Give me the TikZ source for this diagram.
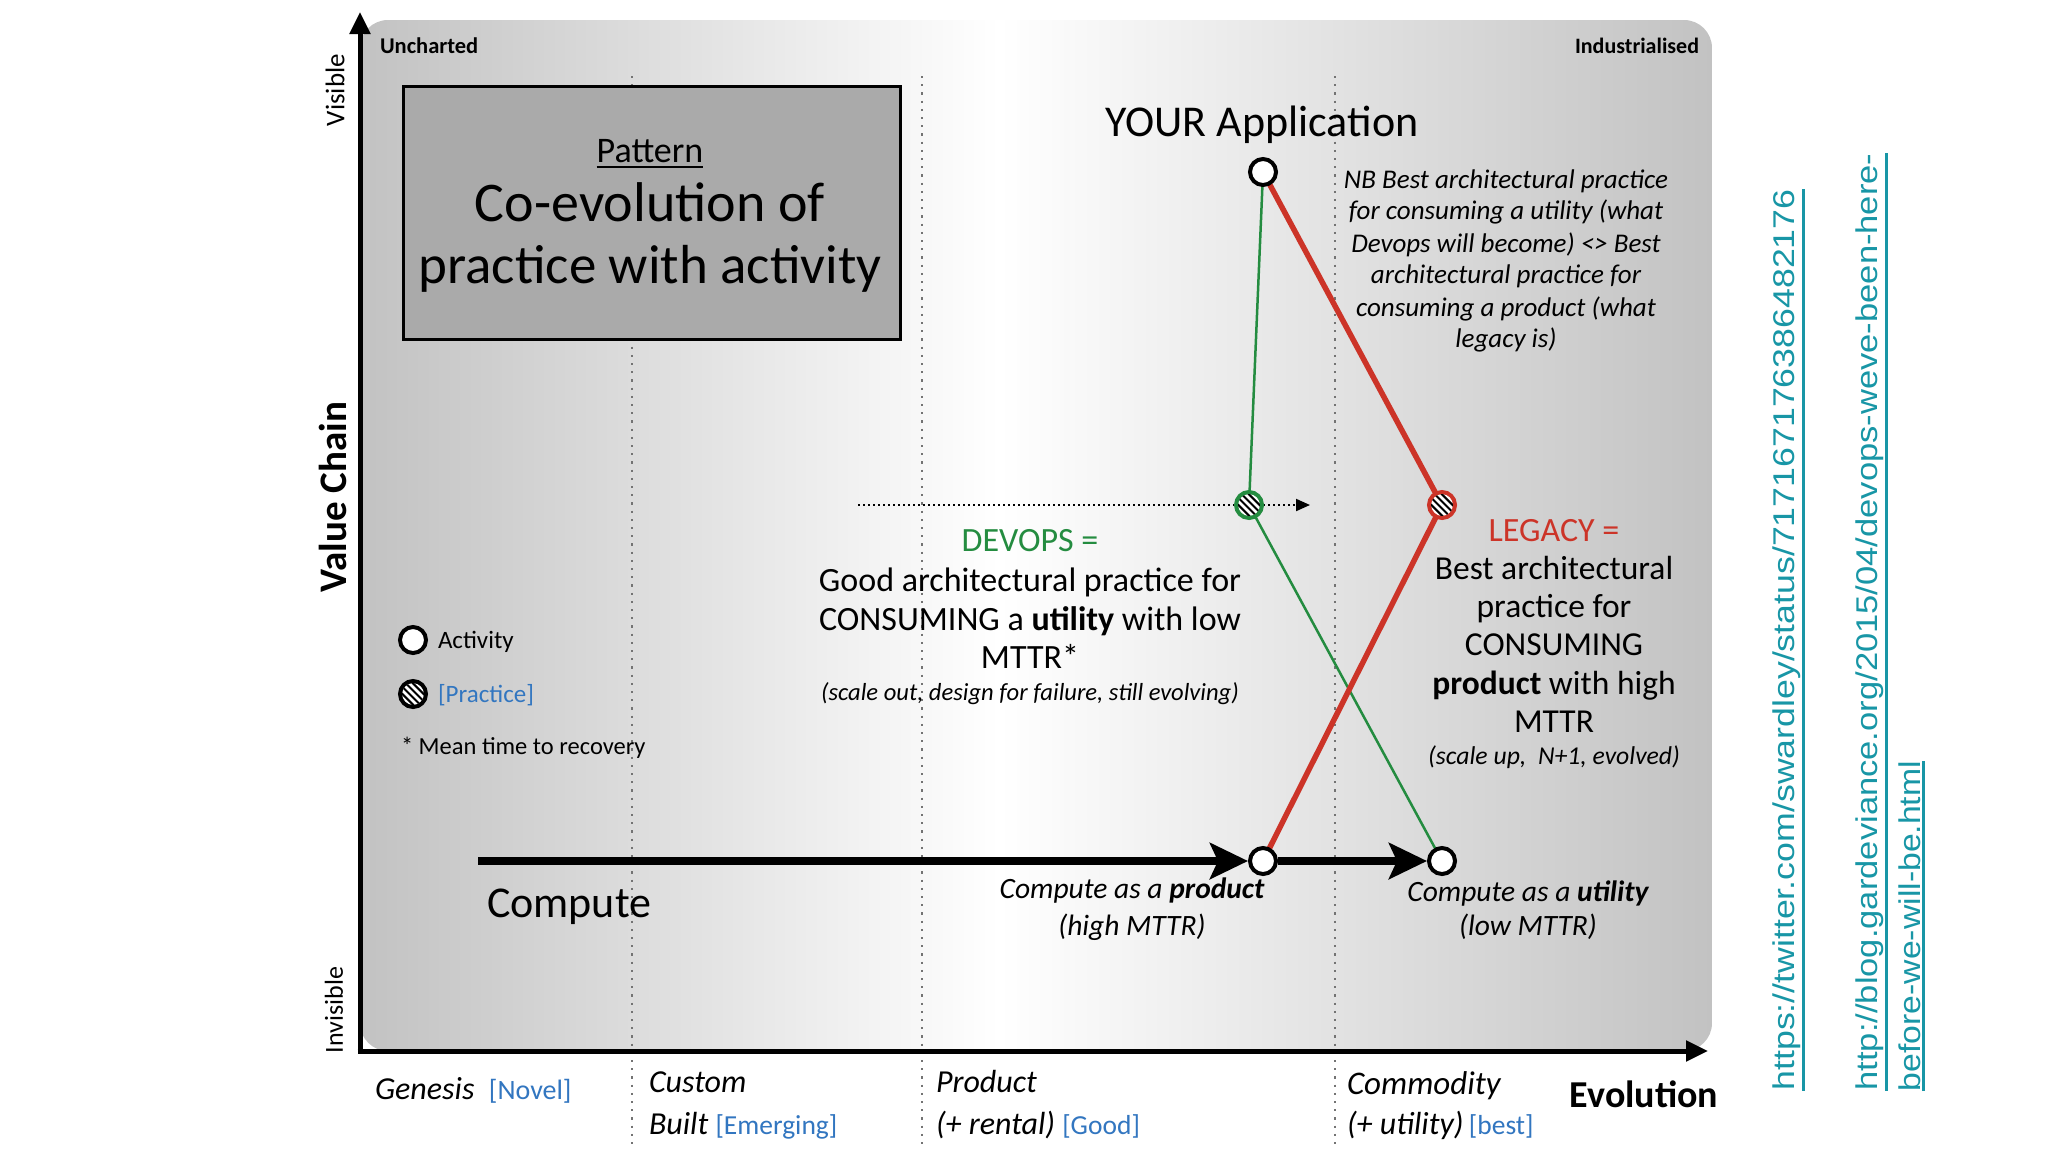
\documentclass[tikz,border=0pt]{standalone}
\usepackage{fontspec}
\usepackage{graphicx}
\setmainfont{Carlito}
\newfontfamily\urlfont{Liberation Sans}
\usetikzlibrary{arrows.meta,calc}
\definecolor{dgreen}{RGB}{36,140,64}
\definecolor{dred}{RGB}{204,52,40}
\definecolor{lblue}{RGB}{50,118,192}
\definecolor{urlc}{RGB}{24,150,166}
\definecolor{boxgray}{RGB}{170,170,170}
\definecolor{bggray}{RGB}{194,194,194}
\newcommand{\fs}[2]{\fontsize{#1}{#2}\selectfont}
\newcommand{\hatchcirc}[1]{%
  \begin{scope}
    \clip (#1) circle (11pt);
    \foreach \dd in {-7.5,-2.5,2.5,7.5}{
      \draw[line width=2pt] ($(#1)+(\dd*0.7071,-\dd*0.7071)+(-20,-20)$) -- ($(#1)+(\dd*0.7071,-\dd*0.7071)+(20,20)$);
    }
  \end{scope}}
\begin{document}
\begin{tikzpicture}[x=1pt,y=-1pt,
  act/.style={circle,draw=black,line width=4pt,fill=white,minimum size=26pt,inner sep=0pt},
  prac/.style={circle,line width=4pt,fill=white,minimum size=26pt,inner sep=0pt},
  txt/.style={inner sep=0pt,outer sep=0pt},
  vdots/.style={draw=black!55,line width=2.2pt,dash pattern=on 2.2pt off 6pt},
  bigarrow/.style={line width=8pt,-{Stealth[length=38pt,width=36pt,inset=8pt]}},
  axisarrow/.style={line width=5pt,-{Triangle[length=22pt,width=20pt]}},
]
\useasboundingbox (0,0) rectangle (2048,1152);
\fill[white] (0,0) rectangle (2048,1152);
% background shading
\begin{scope}
  \clip[rounded corners=28pt] (360,20) rectangle (1712,1051);
  \shade[left color=bggray, right color=white] (360,20) rectangle (1000,1051);
  \shade[left color=white, right color=bggray] (999,20) rectangle (1712,1051);
\end{scope}
% stage separators
\foreach \xx/\nm in {632/sa,922/sb,1335/sc}{
  \coordinate (\nm t) at (\xx,76);
  \coordinate (\nm b) at (\xx,1145);
  \draw[vdots] (\nm t) -- (\nm b);
}
% axes
\coordinate (O) at (360,1053);
\coordinate (Ox) at (357.5,1051);
\coordinate (Ytop) at (360,12);
\coordinate (Xend) at (1708,1051);
\draw[axisarrow] (O) -- (Ytop);
\draw[axisarrow] (Ox) -- (Xend);
% pattern box
\node[draw=black,line width=3pt,fill=boxgray,minimum width=497pt,minimum height=253pt,anchor=north west,inner sep=0pt] (pbox) at (402,85) {};
\node[txt,anchor=base] (ptitle) at (650,162) {\fs{36}{42}Pattern};
\draw[line width=2pt] ($(ptitle.base west)+(0,5)$) -- ($(ptitle.base east)+(0,5)$);
\node[txt,anchor=base] (pl1) at (650,221) {\fs{56}{66}Co-evolution of};
\node[txt,anchor=base] (pl2) at (650,283) {\fs{55}{66}practice with activity};
% labels on axes
\node[txt,anchor=west] (unch) at (380,46) {\fs{22.5}{26}\bfseries Uncharted};
\node[txt,anchor=east] (indu) at (1699,46) {\fs{22}{26}\bfseries Industrialised};
\node[txt,rotate=90] (vis) at (335,90) {\fs{27}{32}Visible};
\node[txt,rotate=90] (invis) at (334,1010) {\fs{26}{32}Invisible};
\node[txt,rotate=90] (vchain) at (333,497) {\fs{39}{46}\bfseries Value Chain};
% dotted evolution arrow
\coordinate (dstart) at (858,505);
\coordinate (dend) at (1310,505);
\draw[line width=2pt,dash pattern=on 2pt off 3pt,-{Triangle[length=14pt,width=12pt]}] (dstart) -- (dend);
% node centres
\coordinate (appc) at (1263,172);
\coordinate (devc) at (1249,505);
\coordinate (legc) at (1442,505);
\coordinate (prodc) at (1263,861);
\coordinate (utilc) at (1442,861);
% connectors
\draw[dgreen,line width=2.5pt] (appc) -- (devc) -- (utilc);
\draw[dred,line width=5.5pt] (appc) -- (legc) -- (prodc);
% circles
\node[act] (app) at (appc) {};
\node[prac,draw=dgreen] (dev) at (devc) {};
\node[prac,draw=dred] (leg) at (legc) {};
\node[act] (prod) at (prodc) {};
\node[act] (util) at (utilc) {};
\hatchcirc{devc}
\hatchcirc{legc}
% compute arrows
\coordinate (cstart) at (478,861);
\draw[bigarrow] (cstart) -- (prod);
\draw[bigarrow] (prod) -- (util);
% texts
\node[txt] (apptxt) at (1262,125) {\fs{44}{52}YOUR Application};
\foreach \tt/\yy/\nm in {NB Best architectural practice/188/nb1,for consuming a utility (what/219/nb2,Devops will become) <> Best/252/nb3,architectural practice for/283/nb4,consuming a product (what/316/nb5,legacy is)/347/nb6}{
  \node[txt,anchor=base] (\nm) at (1506,\yy) {\fs{27}{32}\itshape \tt};
}
\node[txt,anchor=base,text=dgreen] (dv0) at (1030,551) {\fs{34}{40}DEVOPS =};
\node[txt,anchor=base] (dv1) at (1030,591) {\fs{34}{40}Good architectural practice for};
\node[txt,anchor=base] (dv2) at (1030,630) {\fs{34}{40}CONSUMING a \textbf{utility} with low};
\node[txt,anchor=base] (dv3) at (1030,668) {\fs{34}{40}MTTR*};
\node[txt,anchor=base] (dv4) at (1030,700) {\fs{24.6}{28}\itshape (scale out, design for failure, still evolving)};
\node[txt,anchor=base,text=dred] (lg0) at (1554,541) {\fs{34}{40}LEGACY =};
\node[txt,anchor=base] (lg1) at (1554,579) {\fs{33.5}{40}Best architectural};
\node[txt,anchor=base] (lg2) at (1554,617) {\fs{33.5}{40}practice for};
\node[txt,anchor=base] (lg3) at (1554,655) {\fs{33.5}{40}CONSUMING};
\node[txt,anchor=base] (lg4) at (1554,694) {\fs{33.5}{40}\textbf{product} with high};
\node[txt,anchor=base] (lg5) at (1554,732) {\fs{33.5}{40}MTTR};
\node[txt,anchor=base] (lg6) at (1554,764) {\fs{25.7}{30}\itshape (scale up,\ \ N+1, evolved)};
% legend
\node[act] (lact) at (413,640) {};
\node[prac,draw=black] (lprac) at (413,694) {};
\hatchcirc{lprac.center}
\node[txt,anchor=base west] (lacttxt) at (438,648) {\fs{25}{30}Activity};
\node[txt,anchor=base west,text=lblue] (lpractxt) at (438,702) {\fs{25}{30}[Practice]};
\node[txt,anchor=base west] (mttr) at (401,754) {\fs{24.5}{30}* Mean time to recovery};
% compute labels
\node[txt,anchor=base west] (comp) at (487,917) {\fs{44}{52}Compute};
\node[txt,anchor=base] (cp1) at (1132,898) {\fs{29.5}{34}\itshape Compute as a \textbf{product}};
\node[txt,anchor=base] (cp2) at (1132,935) {\fs{29.5}{34}\itshape (high MTTR)};
\node[txt,anchor=base] (cu1) at (1528,901) {\fs{29.5}{34}\itshape Compute as a \textbf{utility}};
\node[txt,anchor=base] (cu2) at (1528,935) {\fs{29.5}{34}\itshape (low MTTR)};
% evolution stages
\node[txt,anchor=base west] (gen) at (375,1099) {\fs{32}{38}\itshape Genesis\ \ {\fs{28}{32}\upshape\color{lblue}[Novel]}};
\node[txt,anchor=base west] (cus1) at (649,1092) {\fs{32}{38}\itshape Custom};
\node[txt,anchor=base west] (cus2) at (649,1134) {\fs{32}{38}\itshape Built\ {\fs{27.5}{32}\upshape\color{lblue}[Emerging]}};
\node[txt,anchor=base west] (pro1) at (936,1092) {\fs{32}{38}\itshape Product};
\node[txt,anchor=base west] (pro2) at (936,1134) {\fs{32}{38}\itshape (+ rental)\ {\fs{27.5}{32}\upshape\color{lblue}[Good]}};
\node[txt,anchor=base west] (com1) at (1347,1094) {\fs{33}{38}\itshape Commodity};
\node[txt,anchor=base west] (com2) at (1347,1134) {\fs{32}{38}\itshape (+ utility)\,{\fs{27.5}{32}\upshape\color{lblue}[best]}};
\node[txt,anchor=base] (evo) at (1644,1107) {\fs{38}{44}\bfseries Evolution};
% URLs
\node[txt,rotate=90,text=urlc] (url1) at (1787,640) {\resizebox{901pt}{\height}{\urlfont\fs{30}{36}https://twitter.com/swardley/status/717167176386482176}};
\draw[urlc,line width=3pt] ($(url1.south west)+(2,0)$) -- ($(url1.south east)+(2,0)$);
\node[txt,rotate=90,text=urlc] (url2) at (1870,622) {\resizebox{937pt}{\height}{\urlfont\fs{30}{36}http://blog.gardeviance.org/2015/04/devops-weve-been-here-}};
\draw[urlc,line width=3pt] ($(url2.south west)+(2,0)$) -- ($(url2.south east)+(2,0)$);
\node[txt,rotate=90,text=urlc,anchor=west] (url3) at (1910,1091) {\resizebox{330pt}{\height}{\urlfont\fs{30}{36}before-we-will-be.html}};
\draw[urlc,line width=3pt] ($(url3.south west)+(2,0)$) -- ($(url3.south east)+(2,0)$);
\end{tikzpicture}
\end{document}
